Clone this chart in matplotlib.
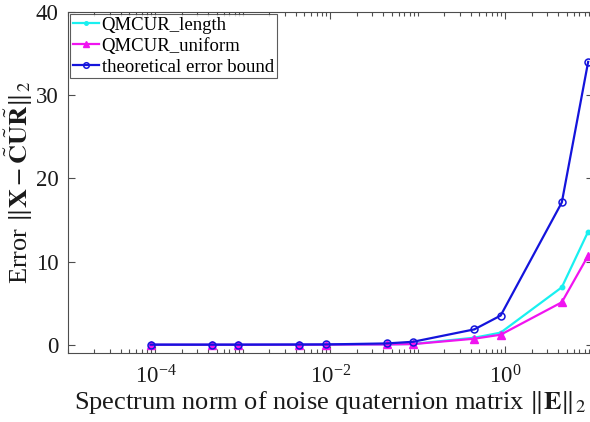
import numpy as np
import matplotlib
matplotlib.use("Agg")
import matplotlib.pyplot as plt
from matplotlib.ticker import FixedLocator, LogFormatterSciNotation, NullFormatter

plt.rcParams["font.family"] = ["Liberation Serif", "DejaVu Serif"]
plt.rcParams["mathtext.fontset"] = "stix"

# spectrum norm of the noise matrix (x) and errors
noise_norm = [8.8e-5, 4.4e-4, 8.8e-4, 4.4e-3, 8.8e-3, 4.4e-2, 8.8e-2, 0.44, 0.88, 4.4, 8.8]
err_length = [0.0, 0.0, 0.0, 0.0, 0.01, 0.04, 0.09, 0.84, 1.45, 6.9, 13.6]
err_uniform = [0.0, 0.0, 0.0, 0.0, 0.01, 0.03, 0.07, 0.72, 1.2, 5.1, 10.7]
err_bound = [0.0, 0.0, 0.0, 0.02, 0.03, 0.15, 0.35, 1.84, 3.5, 17.1, 34.0]

axcol = "#4d4d4d"
txtcol = "#1a1a1a"

fig = plt.figure(figsize=(5.9, 4.22), dpi=100)
# the original figure is cropped just left of its right spine
ax = fig.add_axes([68 / 590, 1 - 353 / 422, 525 / 590, 341 / 422])

ax.plot(noise_norm, err_length, "-", color="#19f0f0", lw=1.6, marker="o", ms=3.2,
        mfc="#19f0f0", mec="#19f0f0", label="QMCUR_length")
ax.plot(noise_norm, err_uniform, "-", color="#f014f0", lw=1.6, marker="^", ms=6,
        mfc="#f014f0", mec="#f014f0", label="QMCUR_uniform")
ax.plot(noise_norm, err_bound, "-", color="#1414dc", lw=1.6, marker="o", ms=5,
        mfc="none", mec="#1414dc", mew=1.1, label="theoretical error bound")

ax.set_xscale("log")
ax.set_xlim(1e-5, 1e1)
ax.set_ylim(-1, 40)
ax.xaxis.set_major_locator(FixedLocator([1e-4, 1e-2, 1e0]))
ax.xaxis.set_major_formatter(LogFormatterSciNotation())
minors = [k * 10.0 ** e for e in range(-5, 1) for k in range(1, 10)] + [10.0]
minors = [m for m in minors if m not in (1e-4, 1e-2, 1e0)]
ax.xaxis.set_minor_locator(FixedLocator(minors))
ax.xaxis.set_minor_formatter(NullFormatter())
ax.set_yticks([0, 10, 20, 30, 40])

ax.tick_params(which="both", direction="in", top=True, right=True, colors=axcol,
               labelcolor=txtcol, labelsize=16.5, width=0.8)
ax.tick_params(which="major", length=5)
ax.tick_params(which="minor", length=3)
ax.tick_params(axis="x", which="major", pad=9)
ax.tick_params(axis="y", which="major", pad=7)
for s in ax.spines.values():
    s.set_color(axcol)
    s.set_linewidth(0.8)

ax.set_xlabel(r"Spectrum norm of noise quaternion matrix $\|\mathbf{E}\|_2$",
              fontsize=19, color=txtcol, labelpad=0)
ax.set_ylabel(r"Error $\|\mathbf{X}-\tilde{\mathbf{C}}\tilde{\mathbf{U}}\tilde{\mathbf{R}}\|_2$",
              fontsize=19, color=txtcol, labelpad=0)

leg = ax.legend(loc="upper left", fontsize=13.5, frameon=True, fancybox=False,
                borderpad=0.15, labelspacing=0.2, handlelength=1.4, handletextpad=0.15,
                borderaxespad=0.1, markerscale=0.8)
leg.get_frame().set_edgecolor("#333333")
leg.get_frame().set_linewidth(0.8)

fig.savefig("out.png", dpi=100)
